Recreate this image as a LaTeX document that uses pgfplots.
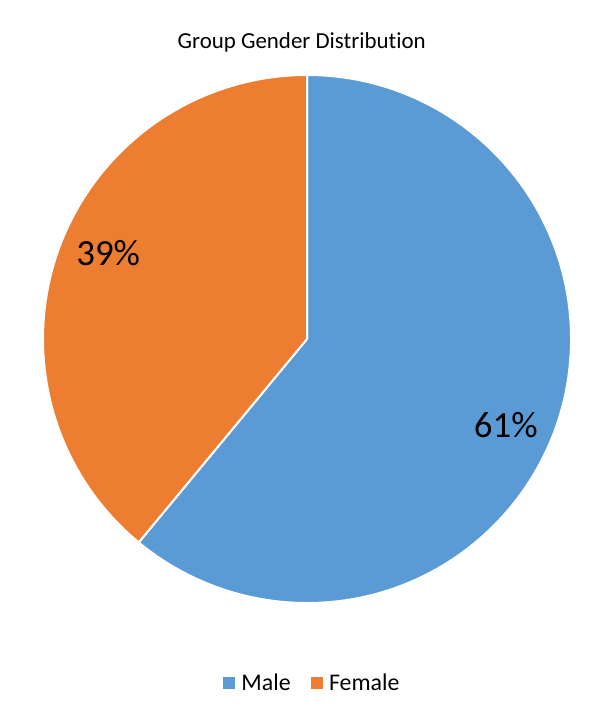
\documentclass[border=0pt]{standalone}
\usepackage{pgfplots}
\pgfplotsset{compat=1.18}
\usepackage{pgfplotstable}
\usepackage{fontspec}
\setmainfont{Carlito}[Ligatures=NoCommon]

\definecolor{maleblue}{HTML}{5B9BD5}
\definecolor{femaleorange}{HTML}{ED7D31}

% share of each group, in percent
\pgfplotstableread{
gender share
Male   61
Female 39
}\genderdata

\begin{document}
\begin{tikzpicture}
\pgfplotstablegetelem{0}{share}\of\genderdata \pgfmathtruncatemacro\male{\pgfplotsretval}
\pgfplotstablegetelem{1}{share}\of\genderdata \pgfmathtruncatemacro\female{\pgfplotsretval}
% slices run clockwise from 12 o'clock
\pgfmathsetmacro\split{90-3.6*\male}
\pgfmathsetmacro\malemid{90-1.8*\male-3.5}
\pgfmathsetmacro\femalemid{\split-1.8*\female-3.5}
\begin{axis}[
    scale only axis,
    width=600bp, height=712bp,
    xmin=-1.1629, xmax=1.1098,
    ymin=-1.4129, ymax=1.2841,
    hide axis, clip=false,
    legend columns=-1,
    legend style={at={(axis cs:0.02,-1.303)}, anchor=center,
      draw=none, fill=none, font=\fontsize{24}{26}\selectfont,
      /tikz/every odd column/.append style={column sep=5bp},
      /tikz/every even column/.append style={column sep=18bp}},
    legend image code/.code={\fill[#1] (0bp,-5.5bp) rectangle (11bp,5.5bp);},
]
\path (rel axis cs:0,0) rectangle (rel axis cs:1,1);
\filldraw[fill=maleblue, draw=white, line width=2bp, line join=round]
  (axis cs:0,0) -- (axis cs:0,1) arc[start angle=90, end angle=\split, radius=264bp] -- cycle;
\filldraw[fill=femaleorange, draw=white, line width=2bp, line join=round]
  (axis cs:0,0) -- (axis cs:{cos(\split)},{sin(\split)}) arc[start angle=\split, end angle=\split-3.6*\female, radius=264bp] -- cycle;
\node[font=\fontsize{37}{40}\selectfont] at (axis cs:{0.82*cos(\malemid)},{0.82*sin(\malemid)}) {\male\%};
\node[font=\fontsize{37}{40}\selectfont] at (axis cs:{0.82*cos(\femalemid)},{0.82*sin(\femalemid)}) {\female\%};
\node[font=\fontsize{23}{26}\selectfont] at (axis cs:-0.02,1.125) {Group Gender Distribution};
\addlegendimage{maleblue}
\addlegendentry{Male}
\addlegendimage{femaleorange}
\addlegendentry{Female}
\end{axis}
\end{tikzpicture}
\end{document}
